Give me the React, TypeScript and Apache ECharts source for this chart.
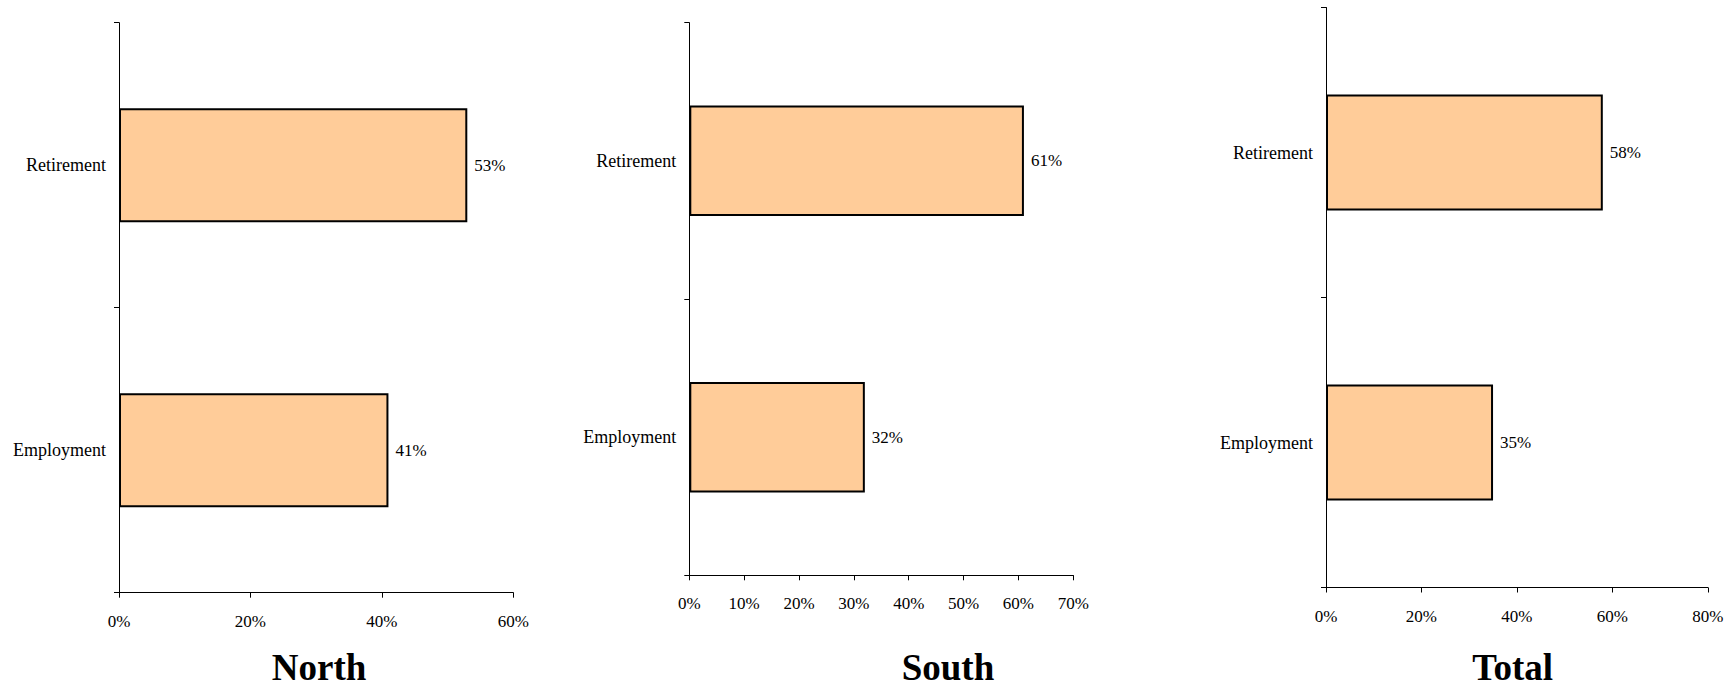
import React, { useEffect, useRef } from "react";
import * as echarts from "echarts";

const categories = ["Employment", "Retirement"];
const northValues = [41, 53];
const southValues = [32, 61];
const totalValues = [35, 58];
const panelTitles = ["North", "South", "Total"];
const axisMax = [60, 70, 80];
const axisInterval = [20, 10, 20];

const FONT = '"Liberation Serif", "Times New Roman", serif';

export default function App() {
  const ref = useRef<HTMLDivElement>(null);

  useEffect(() => {
    document.body.style.margin = "0";
    const chart = echarts.init(ref.current!, null, { renderer: "svg" });

    const grids = [
      { left: 119, top: 22.7, width: 394.3, height: 570 },
      { left: 689.3, top: 22.7, width: 384, height: 552.6 },
      { left: 1326, top: 7.5, width: 381.8, height: 580 },
    ];
    const seriesData = [northValues, southValues, totalValues];
    const titlePos = [
      { x: 319, y: 667 },
      { x: 948, y: 667 },
      { x: 1512.6, y: 667 },
    ];

    const option: any = {
      animation: false,
      backgroundColor: "#ffffff",
      grid: grids.map((g) => ({ ...g, containLabel: false })),
      xAxis: grids.map((_, i) => ({
        type: "value",
        gridIndex: i,
        min: 0,
        max: axisMax[i],
        interval: axisInterval[i],
        splitLine: { show: false },
        axisLine: { show: true, lineStyle: { color: "#000", width: 1 } },
        axisTick: { show: true, length: 5, lineStyle: { color: "#000" } },
        axisLabel: {
          formatter: "{value}%",
          color: "#000",
          fontFamily: FONT,
          fontSize: 17,
          margin: 20,
        },
      })),
      yAxis: grids.map((_, i) => ({
        type: "category",
        gridIndex: i,
        data: categories,
        axisLine: { show: true, lineStyle: { color: "#000", width: 1 } },
        axisTick: { show: true, length: 5, lineStyle: { color: "#000" } },
        axisLabel: {
          color: "#000",
          fontFamily: FONT,
          fontSize: 18,
          margin: 13,
        },
      })),
      series: seriesData.map((d, i) => ({
        type: "bar",
        xAxisIndex: i,
        yAxisIndex: i,
        data: d,
        barWidth: "40%",
        itemStyle: { color: "#FFCC99", borderColor: "#000", borderWidth: 2 },
        label: {
          show: true,
          position: "right",
          distance: 7,
          formatter: "{c}%",
          color: "#000",
          fontFamily: FONT,
          fontSize: 17,
        },
      })),
      graphic: panelTitles.map((t, i) => ({
        type: "text",
        x: titlePos[i].x,
        y: titlePos[i].y,
        style: {
          text: t,
          font: `bold 37px ${FONT}`,
          fill: "#000",
          align: "center",
          verticalAlign: "middle",
        },
      })),
    };

    chart.setOption(option);
    return () => chart.dispose();
  }, []);

  return (
    <div
      ref={ref}
      style={{ position: "absolute", left: 0, top: 0, width: 1735, height: 688 }}
    />
  );
}
